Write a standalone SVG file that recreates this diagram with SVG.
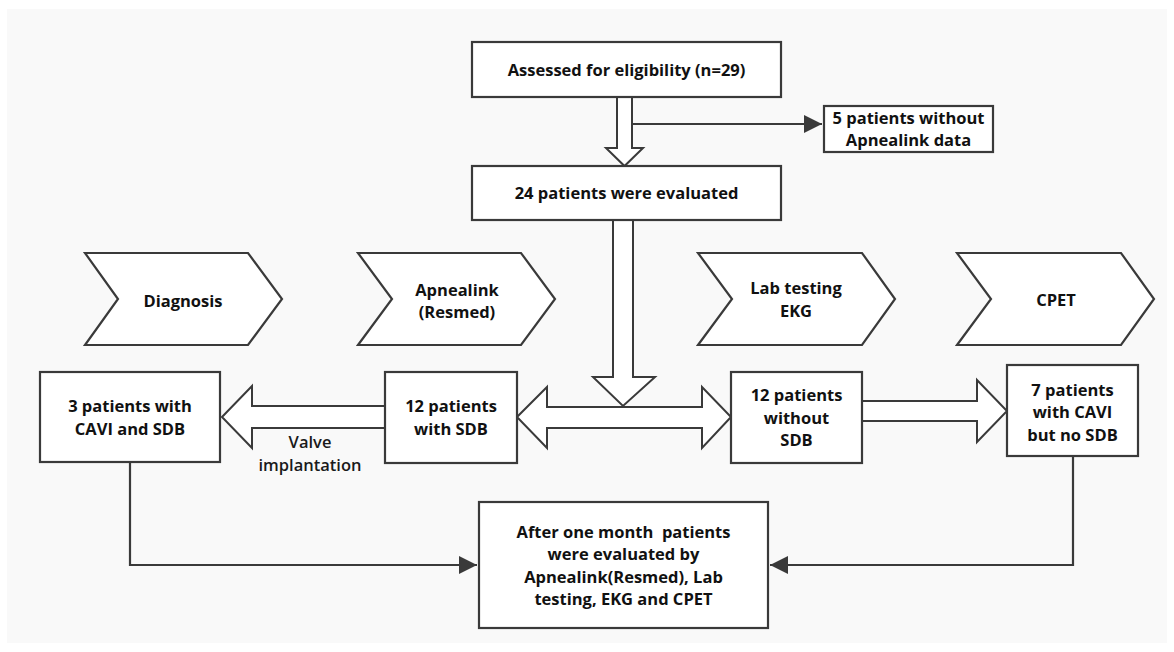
<svg xmlns="http://www.w3.org/2000/svg" width="1174" height="652" viewBox="0 0 1174 652">
<defs>
<style>
.bx{fill:#ffffff;stroke:#3a3a3a;stroke-width:2.2}
.ha{fill:#ffffff;stroke:#3a3a3a;stroke-width:2;stroke-linejoin:miter}
.ln{fill:none;stroke:#3a3a3a;stroke-width:2.2}
text{font-family:"Open Sans","Noto Sans","Liberation Sans",sans-serif;font-size:16.5px;font-weight:700;fill:#111111;text-anchor:middle}
.lbl{font-weight:600;fill:#1a1a1a}
</style>
<marker id="ah" viewBox="0 0 10 10" refX="10" refY="5" markerWidth="18" markerHeight="18" markerUnits="userSpaceOnUse" orient="auto">
<path d="M0,0 L10,5 L0,10 z" fill="#3a3a3a"/>
</marker>
</defs>
<rect x="0" y="0" width="1174" height="652" fill="#ffffff"/>
<rect x="7" y="9" width="1160" height="634" fill="#f9f9f9"/>

<g id="connectors">
<polyline class="ln" points="632,124 822,124" marker-end="url(#ah)"/>
<polyline class="ln" points="130,462 130,565 477,565" marker-end="url(#ah)"/>
<polyline class="ln" points="1073,456 1073,565 770,565" marker-end="url(#ah)"/>
<polygon class="ha" points="617,97 632,97 632,148 643,148 624.5,166 606,148 617,148"/>
<polygon class="ha" points="517,417 547,387 547,407 702,407 702,387 731,417 702,448 702,428 547,428 547,448"/>
<polygon class="ha" points="613,220 633,220 633,377 655,377 623,406 593,377 613,377"/>
<polygon class="ha" points="222,417 252,386 252,406 385,406 385,428 252,428 252,448"/>
<polygon class="ha" points="862,401 977,401 977,380 1007,411 977,442 977,421 862,421"/>
<text class="lbl" x="310" y="448">Valve</text>
<text class="lbl" x="310" y="471">implantation</text>
</g>

<g id="assessed">
<rect class="bx" x="472" y="42" width="309" height="55"/>
<text x="626.5" y="76">Assessed for eligibility (n=29)</text>
</g>
<g id="excluded">
<rect class="bx" x="824" y="106" width="169" height="46"/>
<text x="908.5" y="124">5 patients without</text>
<text x="908.5" y="146">Apnealink data</text>
</g>
<g id="evaluated">
<rect class="bx" x="472" y="166" width="309" height="54"/>
<text x="626.5" y="199">24 patients were evaluated</text>
</g>

<g id="stage-diagnosis">
<polygon class="bx" points="85,253 248,253 282,299 248,345 85,345 118,299"/>
<text x="183" y="307">Diagnosis</text>
</g>
<g id="stage-apnealink">
<polygon class="bx" points="358,253 521,253 555,299 521,345 358,345 392,299"/>
<text x="457" y="296">Apnealink</text>
<text x="457" y="318">(Resmed)</text>
</g>
<g id="stage-lab">
<polygon class="bx" points="698,253 862,253 895,299 862,345 698,345 732,299"/>
<text x="796" y="294">Lab testing</text>
<text x="796" y="317">EKG</text>
</g>
<g id="stage-cpet">
<polygon class="bx" points="957,253 1121,253 1154,299 1121,345 957,345 991,299"/>
<text x="1056" y="306">CPET</text>
</g>

<g id="cavi-sdb">
<rect class="bx" x="40" y="372" width="180" height="90"/>
<text x="130" y="412">3 patients with</text>
<text x="130" y="435">CAVI and SDB</text>
</g>
<g id="with-sdb">
<rect class="bx" x="385" y="372" width="132" height="91"/>
<text x="451" y="412">12 patients</text>
<text x="451" y="435">with SDB</text>
</g>
<g id="without-sdb">
<rect class="bx" x="731" y="372" width="131" height="91"/>
<text x="796.5" y="401">12 patients</text>
<text x="796.5" y="424">without</text>
<text x="796.5" y="446">SDB</text>
</g>
<g id="cavi-no-sdb">
<rect class="bx" x="1007" y="365" width="131" height="91"/>
<text x="1072.5" y="396">7 patients</text>
<text x="1072.5" y="418">with CAVI</text>
<text x="1072.5" y="441">but no SDB</text>
</g>
<g id="followup">
<rect class="bx" x="479" y="502" width="289" height="126"/>
<text x="623.5" y="538" xml:space="preserve">After one month  patients</text>
<text x="623.5" y="560">were evaluated by</text>
<text x="623.5" y="583">Apnealink(Resmed), Lab</text>
<text x="623.5" y="605">testing, EKG and CPET</text>
</g>
</svg>
